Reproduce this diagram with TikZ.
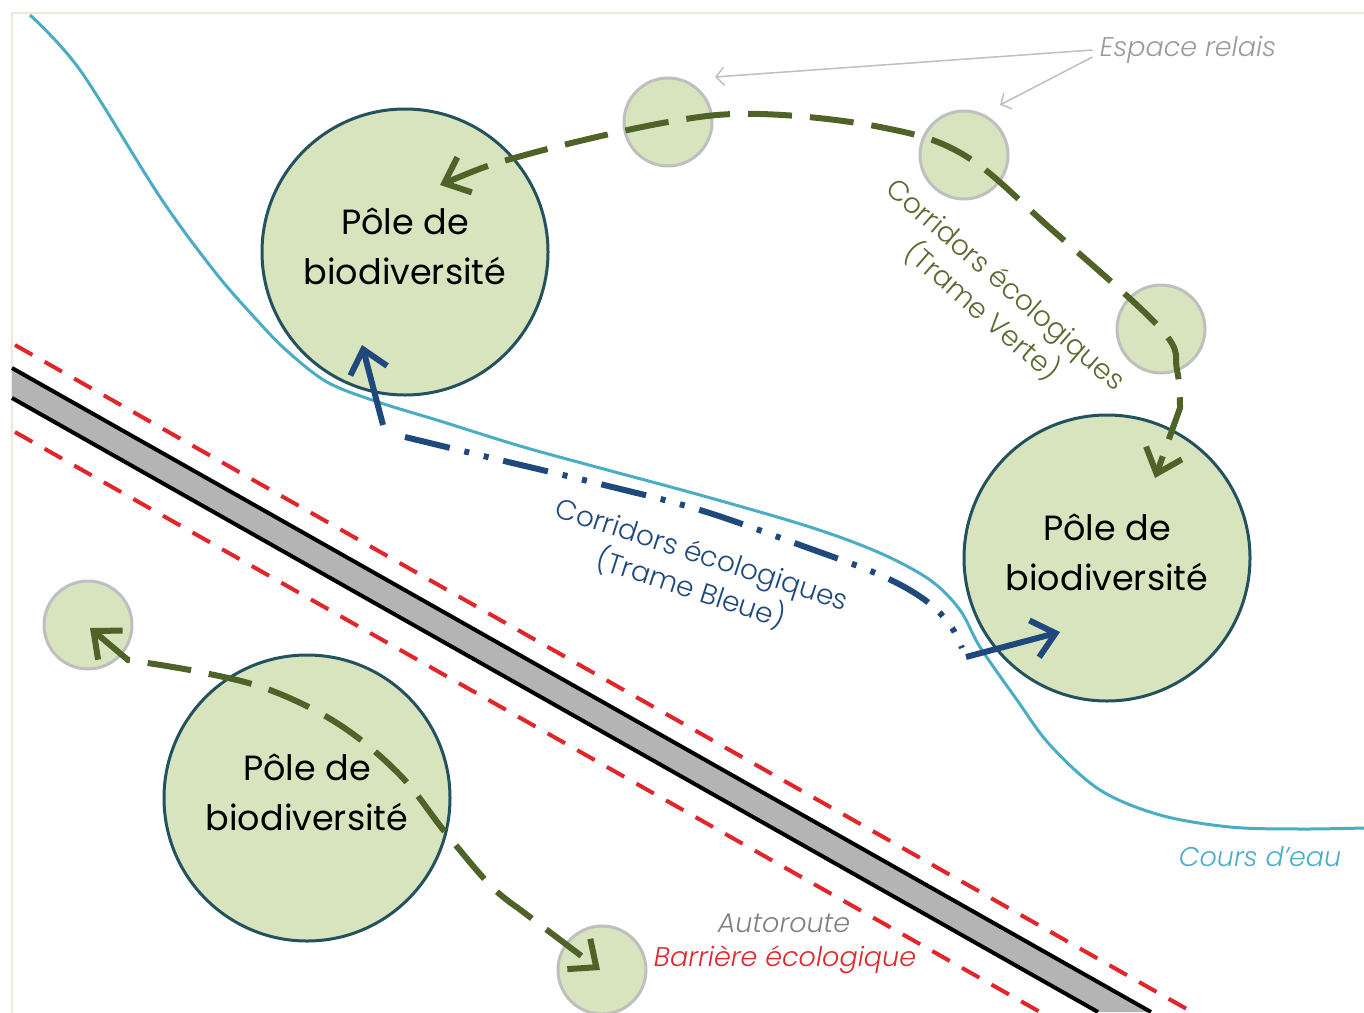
\documentclass[tikz,border=0pt]{standalone}
\usepackage{fontspec}
\usepackage{xcolor}
\usepackage{tikz}
\usetikzlibrary{arrows.meta}
\setmainfont{Poppins}
\IfFontExistsTF{Poppins Light Italic}
  {\newfontfamily\legende{Poppins Light Italic}}
  {\IfFontExistsTF{Poppins Italic}{\newfontfamily\legende{Poppins Italic}}{\newfontfamily\legende{Poppins}[FakeSlant=0.2]}}
\IfFontExistsTF{Poppins Light}
  {\newfontfamily\corridor{Poppins Light}}
  {\newfontfamily\corridor{Poppins}}
\definecolor{fondvert}{HTML}{D7E4BD}
\definecolor{bordpole}{HTML}{23515E}
\definecolor{bordrelais}{HTML}{BFBFBF}
\definecolor{vertfonce}{HTML}{4F6228}
\definecolor{vertlabel}{HTML}{5A6B32}
\definecolor{bleufonce}{HTML}{1F497D}
\definecolor{bleuclair}{HTML}{4BACC6}
\definecolor{rouge}{HTML}{E0262B}
\definecolor{routegris}{HTML}{B4B4B4}
\definecolor{grisclair}{HTML}{9A9A9A}
\definecolor{grismoyen}{HTML}{808080}
\definecolor{cadre}{HTML}{ECE8DD}

\begin{document}
\begin{tikzpicture}[x=1pt, y=-1pt, >={Straight Barb[length=22pt, width=38pt]},
    pole/.style={circle, fill=fondvert, draw=bordpole, line width=3pt, minimum size=286pt, inner sep=0pt, align=center, text depth=12pt, font=\fontsize{35}{50}\selectfont},
    relais/.style={circle, fill=fondvert, draw=bordrelais, line width=3pt, minimum size=88pt, inner sep=0pt},
    verte/.style={draw=vertfonce, line width=6pt, dash pattern=on 44pt off 18pt},
    bleue/.style={draw=bleufonce, line width=6pt, dash pattern=on 46pt off 15pt on 5pt off 15pt on 5pt off 15pt},
    fleche/.style={draw=bleufonce, line width=6pt},
    riviere/.style={draw=bleuclair, line width=3pt},
    barriere/.style={draw=rouge, line width=4pt, dash pattern=on 20pt off 14pt},
    renvoi/.style={draw=bordrelais, line width=1.5pt, -{Straight Barb[length=8pt, width=18pt]}},
    legende/.style={font=\legende\fontsize{27}{34}\selectfont},
    titre/.style={align=center, font=\corridor\fontsize{28}{36}\selectfont}]
    \useasboundingbox (0,0) rectangle (1364,1012);
    \draw [cadre, line width=2pt] (12,1030) -- (12,13) -- (1380,13);
    \fill [routegris] (12,368) -- (1151,1012) -- (1098,1012) -- (12,398) -- cycle;
    \draw [line width=4pt] (12,368) -- (1151,1012);
    \draw [line width=4pt] (12,398) -- (1098,1012);
    \draw [barriere] (15,345) -- (1192,1012);
    \draw [barriere] (15,432) -- (1040,1012);
    \node [pole] (p1) at (405,252) {Pôle de\\biodiversité};
    \node [pole] (p2) at (1107,558) {Pôle de\\biodiversité};
    \node [pole] (p3) at (307,798) {Pôle de\\biodiversité};
    \node [relais] (s1) at (668,122) {};
    \node [relais] (s2) at (964,155) {};
    \node [relais] (s3) at (1161,329) {};
    \node [relais] (s4) at (88,625) {};
    \node [relais] (s5) at (602,970) {};
    \draw [riviere] plot [smooth, tension=0.55] coordinates {(30,15) (80,70) (160,197) (215,272) (255,318) (286,350) (327,382) (378,402) (440,421) (520,446) (600,468) (700,495) (810,527) (880,553) (930,580) (960,610) (980,647) (1017,700) (1050,745) (1100,790) (1160,815) (1230,827) (1300,829) (1364,828)};
    \coordinate (v1) at (440,185);
    \coordinate (k2) at (1180,408);
    \coordinate (v2) at (1155,478);
    \draw [verte, <->] plot [smooth, tension=0.6] coordinates {(v1) (525,155) (s1.center) (760,114) (880,127) (s2.center) (1050,228) (s3.center) (1177,370) (k2)} -- (v2);
    \coordinate (v3) at (90,628);
    \coordinate (k3) at (128,660);
    \coordinate (k4) at (518,908);
    \coordinate (v4) at (600,970);
    \draw [verte, <->] (v3) -- plot [smooth, tension=0.6] coordinates {(k3) (200,672) (270,690) (340,725) (400,775) (445,832) (490,885) (k4)} -- (v4);
    \coordinate (b1) at (383,425);
    \coordinate (t1) at (362,345);
    \coordinate (b2) at (405,437);
    \coordinate (b3) at (962,648);
    \coordinate (b4) at (966,657);
    \coordinate (t2) at (1060,632);
    \draw [fleche, ->] (b1) -- (t1);
    \draw [bleue] plot [smooth, tension=0.6] coordinates {(b2) (500,460) (600,484) (700,510) (800,545) (880,575) (925,600) (950,625) (b3)};
    \draw [fleche, ->] (b4) -- (t2);
    \node [legende, text=grisclair] (er) at (1188,50) {Espace relais};
    \coordinate (r1) at (715,77);
    \coordinate (r2) at (1000,105);
    \draw [renvoi] ([xshift=-4pt]er.west) -- (r1);
    \draw [renvoi] ([xshift=-4pt, yshift=-7pt]er.west) -- (r2);
    \node [titre, text=vertlabel, rotate=-41] (cv) at (993,299) {Corridors écologiques\\(Trame Verte)};
    \node [titre, text=bleufonce, rotate=-18] (cb) at (696,573) {Corridors écologiques\\(Trame Bleue)};
    \node [legende, text=bleuclair] (ce) at (1260,857) {Cours d’eau};
    \node [legende, text=grismoyen] (ar) at (784,923) {Autoroute};
    \node [legende, text=rouge] (be) at (785,960) {Barrière écologique};
\end{tikzpicture}
\end{document}
